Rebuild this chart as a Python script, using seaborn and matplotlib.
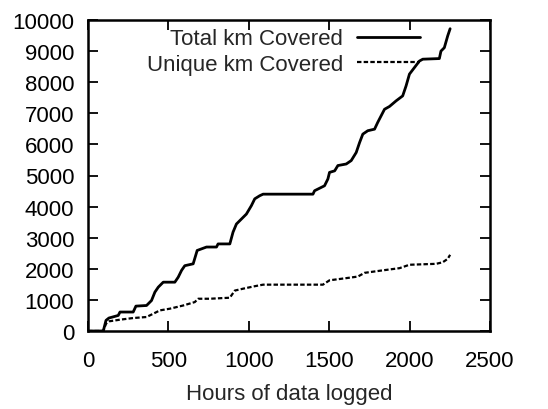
import matplotlib
matplotlib.use("Agg")
import matplotlib.pyplot as plt
import seaborn as sns
import pandas as pd

# total km covered vs hours logged
total_hours = [0, 95, 112, 130, 188, 199, 281, 298, 364, 395, 416, 437, 468, 540, 561, 582,
               602, 654, 679, 737, 799, 809, 882, 902, 923, 954, 985, 1016, 1037, 1068, 1089,
               1399, 1409, 1471, 1492, 1502, 1534, 1554, 1606, 1637, 1668, 1689, 1709, 1740,
               1782, 1802, 1823, 1844, 1875, 1916, 1957, 1978, 1999, 2030, 2061, 2082, 2185,
               2195, 2216, 2237, 2252]
total_km = [0, 0, 342, 417, 500, 610, 610, 800, 820, 980, 1250, 1410, 1570, 1570, 1730, 1950,
            2100, 2160, 2590, 2700, 2700, 2800, 2800, 3180, 3440, 3600, 3760, 4030, 4250, 4350,
            4400, 4400, 4510, 4670, 4890, 5100, 5150, 5320, 5370, 5480, 5740, 6060, 6330, 6440,
            6490, 6710, 6920, 7130, 7220, 7400, 7560, 7880, 8260, 8470, 8680, 8740, 8760,
            9000, 9110, 9490, 9720]

# unique km covered vs hours logged
unique_hours = [0, 95, 112, 130, 199, 281, 364, 406, 447, 509, 592, 664, 685, 757, 882, 913,
                964, 1037, 1089, 1461, 1502, 1606, 1678, 1720, 1833, 1937, 1999, 2165, 2206,
                2237, 2252]
unique_km = [0, 0, 235, 310, 364, 417, 450, 556, 663, 717, 820, 930, 1037, 1037, 1070, 1300,
             1360, 1440, 1490, 1490, 1630, 1700, 1750, 1870, 1950, 2020, 2130, 2160, 2210,
             2320, 2450]

df_total = pd.DataFrame({"hours": total_hours, "km": total_km})
df_unique = pd.DataFrame({"hours": unique_hours, "km": unique_km})

sns.set_style("ticks")
plt.rcParams['font.family'] = ['Liberation Sans', 'DejaVu Sans']

fig = plt.figure(figsize=(5.48, 4.10), dpi=100)
ax = fig.add_axes([88 / 548, 1 - 332 / 410, (490 - 88) / 548, (332 - 21) / 410])

sns.lineplot(data=df_total, x="hours", y="km", ax=ax, color="black", linewidth=2.0,
             estimator=None, sort=False, label="Total km Covered")
sns.lineplot(data=df_unique, x="hours", y="km", ax=ax, color="black", linewidth=1.6,
             estimator=None, sort=False, linestyle=(0, (2, 1)), label="Unique km Covered")

ax.set_xlim(0, 2500)
ax.set_ylim(0, 10000)
ax.set_xticks(range(0, 2501, 500))
ax.set_yticks(range(0, 10001, 1000))
ax.tick_params(direction="in", length=7, width=1.3, top=True, right=True,
               labelsize=16, colors="black")
ax.tick_params(axis="y", pad=10)
ax.tick_params(axis="x", pad=14)
for s in ax.spines.values():
    s.set_linewidth(1.8)
    s.set_color("black")

ax.set_xlabel("Hours of data logged", fontsize=16, labelpad=8)
ax.set_ylabel("")

ax.legend(loc="upper right", bbox_to_anchor=(0.858, 1.016), frameon=False, fontsize=16,
          markerfirst=False, handlelength=2.8, handletextpad=0.65, labelspacing=0.22,
          borderaxespad=0.2)
for t in ax.get_legend().get_texts():
    t.set_ha("right")

fig.savefig("out.png", dpi=100)
